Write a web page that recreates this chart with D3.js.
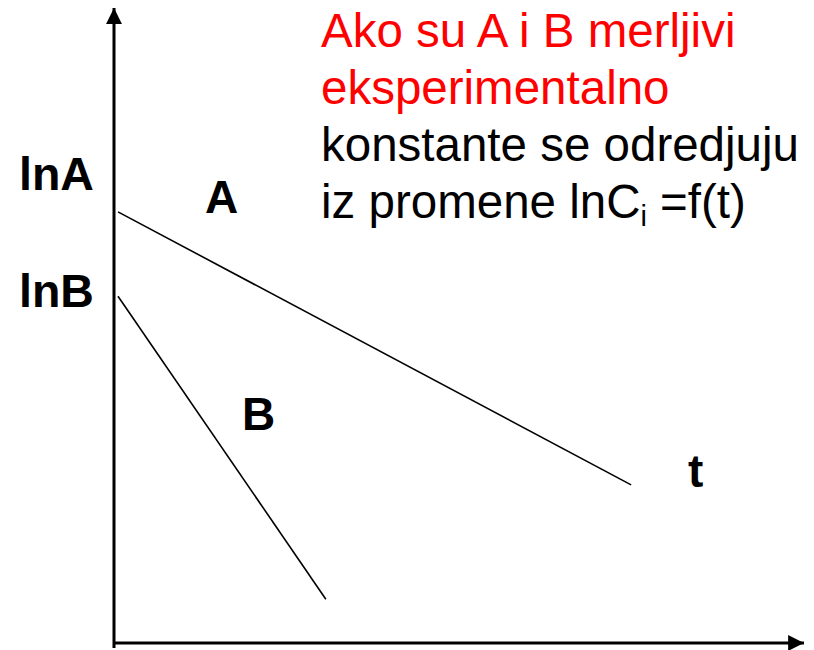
<!DOCTYPE html>
<html>
<head>
<meta charset="utf-8">
<script src="https://cdn.jsdelivr.net/npm/d3@7"></script>
<style>
  body { margin: 0; background: #fff; }
  svg { display: block; }
  text { font-family: "Liberation Sans", Arial, sans-serif; }
</style>
</head>
<body>
<svg id="chart" width="814" height="650"></svg>
<script>
// schematic: ln C vs t for two species
const series = ["A", "B"];
const tStart = [0, 0];
const tEnd = [7.48, 3.03];
const lnStart = [6.79, 5.46];
const lnEnd = [2.49, 0.69];
const axisLabels = ["lnA", "lnB"];
const noteRed = ["Ako su A i B merljivi", "eksperimentalno"];
const noteBlack = ["konstante se odredjuju", "iz promene lnC"];

const svg = d3.select("#chart");

const x = d3.scaleLinear().domain([0, 10]).range([118, 804]);
const y = d3.scaleLinear().domain([0, 10]).range([643, 8]);

svg.append("defs").append("marker")
    .attr("id", "arrow")
    .attr("viewBox", "0 0 10 10")
    .attr("refX", 10).attr("refY", 5)
    .attr("markerWidth", 5.3).attr("markerHeight", 5.3)
    .attr("markerUnits", "strokeWidth")
    .attr("orient", "auto")
    .append("path").attr("d", "M0,0 L10,5 L0,10 Z").attr("fill", "#000");

// axes
svg.append("line")
    .attr("x1", 114).attr("y1", 648).attr("x2", 114).attr("y2", y(10))
    .attr("stroke", "#000").attr("stroke-width", 3)
    .attr("marker-end", "url(#arrow)");
svg.append("line")
    .attr("x1", 113).attr("y1", 643).attr("x2", x(10)).attr("y2", 643)
    .attr("stroke", "#000").attr("stroke-width", 3)
    .attr("marker-end", "url(#arrow)");

const rows = series.map((s, i) => ({
    name: s, t0: tStart[i], t1: tEnd[i], c0: lnStart[i], c1: lnEnd[i], label: axisLabels[i]
}));

svg.selectAll(".ln").data(rows).join("line")
    .classed("ln", true)
    .attr("x1", d => x(d.t0)).attr("y1", d => y(d.c0))
    .attr("x2", d => x(d.t1)).attr("y2", d => y(d.c1))
    .attr("stroke", "#000").attr("stroke-width", 1.6);

// y labels
svg.selectAll(".ylab").data(rows).join("text")
    .classed("ylab", true)
    .attr("x", 19)
    .attr("y", (d, i) => i === 0 ? 190 : 307)
    .attr("font-size", 46.5).attr("font-weight", "bold")
    .text(d => d.label);

// series labels
svg.append("text").attr("x", 205).attr("y", 213)
    .attr("font-size", 46).attr("font-weight", "bold").text("A");
svg.append("text").attr("x", 242).attr("y", 430)
    .attr("font-size", 46).attr("font-weight", "bold").text("B");
svg.append("text").attr("x", 688).attr("y", 487)
    .attr("font-size", 46).attr("font-weight", "bold").text("t");

// note
const note = svg.append("g").attr("transform", "translate(321,0)");
note.selectAll(".red").data(noteRed).join("text")
    .attr("x", 0).attr("y", (d, i) => 47 + i * 57)
    .attr("font-size", 47.5).attr("fill", "#ff0000")
    .text(d => d);
note.selectAll(".blk").data(noteBlack).join("text")
    .attr("x", 0).attr("y", (d, i) => 161 + i * 57)
    .attr("font-size", 47.5).attr("fill", "#000")
    .each(function(d, i) {
        const t = d3.select(this);
        t.append("tspan").text(d);
        if (i === 1) {
            t.append("tspan").attr("font-size", 29).attr("dy", 8).text("i");
            t.append("tspan").attr("dy", -8).text(" =f(t)");
        }
    });
</script>
</body>
</html>
